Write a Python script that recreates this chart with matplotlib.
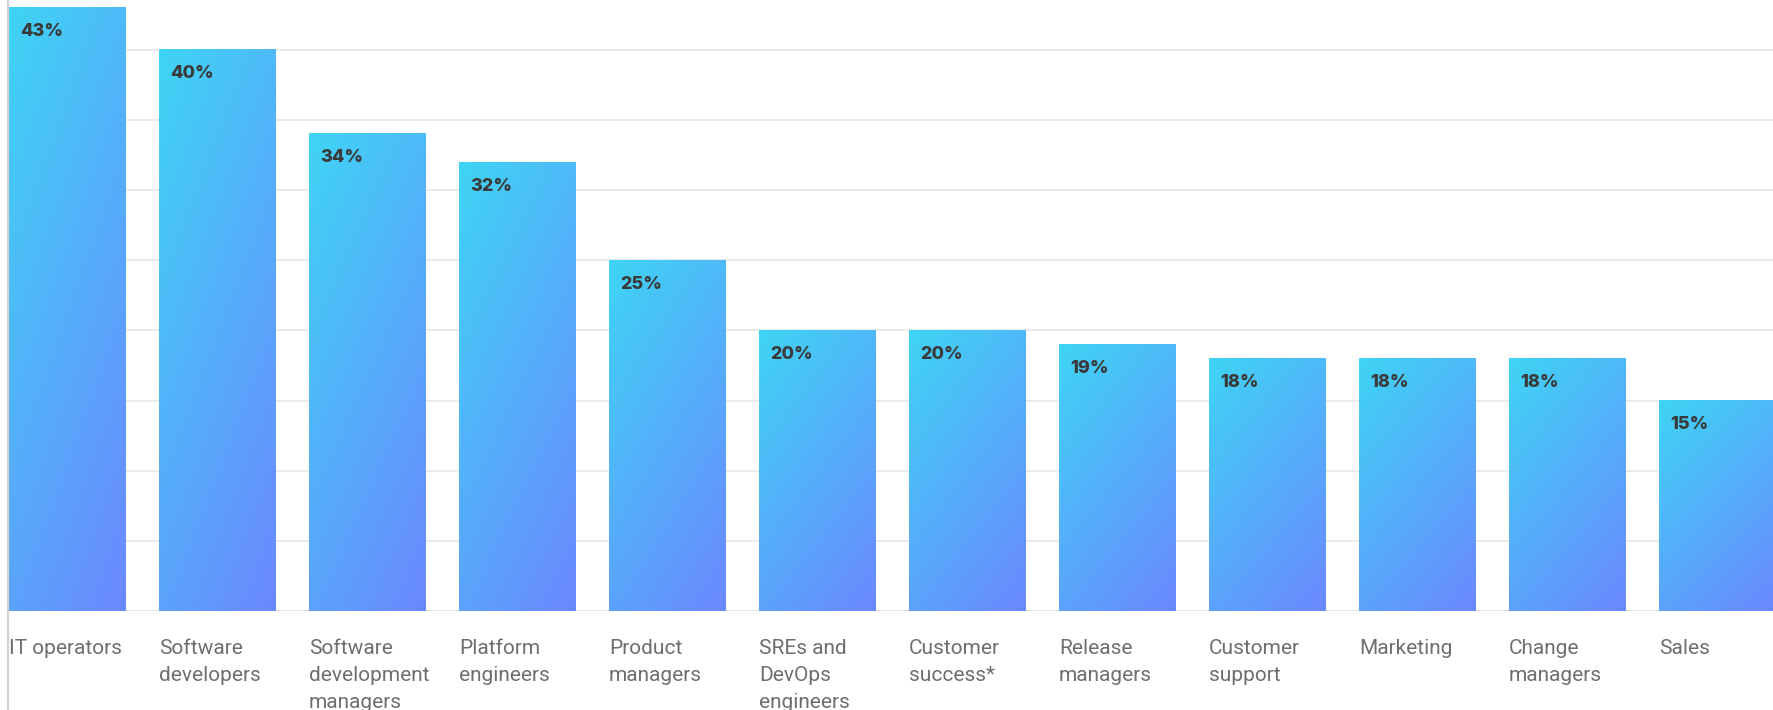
import matplotlib
matplotlib.use("Agg")
import matplotlib.pyplot as plt
from matplotlib.colors import LinearSegmentedColormap
from matplotlib.lines import Line2D
import numpy as np

categories = ["IT operators", "Software\ndevelopers", "Software\ndevelopment\nmanagers",
              "Platform\nengineers", "Product\nmanagers", "SREs and\nDevOps\nengineers",
              "Customer\nsuccess*", "Release\nmanagers", "Customer\nsupport",
              "Marketing", "Change\nmanagers", "Sales"]
shares = [43, 40, 34, 32, 25, 20, 20, 19, 18, 18, 18, 15]
gridlines = [5, 10, 15, 20, 25, 30, 35, 40]

grad = LinearSegmentedColormap.from_list("bar_grad", ["#3fd4f5", "#6b88ff"])

fig = plt.figure(figsize=(17.73, 7.10), dpi=100)
ax = fig.add_axes([8 / 1773, 99 / 710, 1 - 8 / 1773, 611 / 710])

x = np.arange(len(shares))
bars = ax.bar(x, shares, width=0.78, color="none", zorder=2)

# diagonal gradient: cyan in the top-left corner, violet-blue in the bottom-right
u = np.linspace(0, 1, 60)
v = np.linspace(0, 1, 200)
U, V = np.meshgrid(u, v)
shade = 0.35 * U + 0.65 * V   # row 0 = top of the bar
for b in bars:
    x0, y0 = b.get_x(), b.get_y()
    x1, y1 = x0 + b.get_width(), y0 + b.get_height()
    ax.imshow(shade, cmap=grad, vmin=0, vmax=1, extent=(x0, x1, y0, y1),
              origin="upper", aspect="auto", interpolation="bilinear", zorder=2)

for b, val, name in zip(bars, shares, categories):
    ax.annotate(f"{val}%", xy=(b.get_x(), b.get_height()), xytext=(11, -24),
                textcoords="offset pixels", ha="left", va="center",
                fontsize=13, fontweight="heavy", family="Inter", color="#3a3a3a", zorder=3)
    ax.annotate(name, xy=(b.get_x(), 0), xytext=(0, -28),
                textcoords="offset pixels", ha="left", va="top", linespacing=1.52,
                fontsize=15, family="Roboto", color="#6e6e6e", annotation_clip=False)

for g in gridlines:
    ax.axhline(g, color="#e6e6e6", lw=1.1, zorder=1)
ax.axhline(0, color="#e0e0e0", lw=1.3, zorder=1)

ax.set_xlim(-0.397, 11.37)
ax.set_ylim(0, 43.55)
ax.set_xticks([])
ax.set_yticks([])
for s in ax.spines.values():
    s.set_visible(False)

# left rule runs the full height, through the label area
fig.add_artist(Line2D([8 / 1773, 8 / 1773], [0, 1], transform=fig.transFigure,
                      color="#d2d2d2", lw=1.6))

fig.savefig("out.png", dpi=100)
